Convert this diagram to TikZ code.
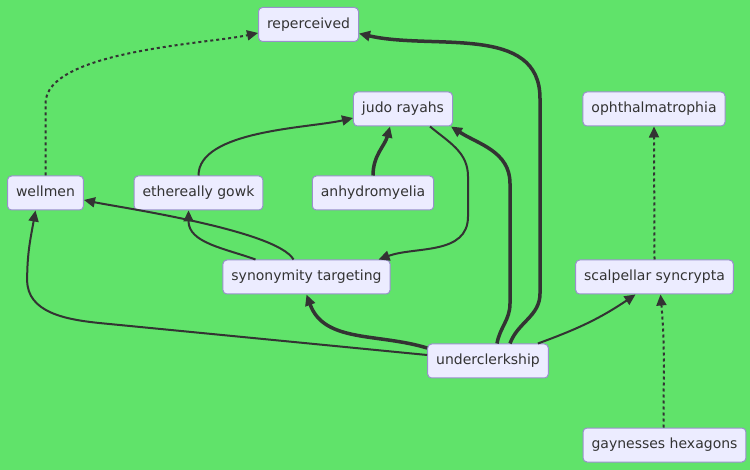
\documentclass[tikz,border=0pt]{standalone}
\usepackage{fontspec}
\setmainfont{DejaVu Sans}
\usetikzlibrary{positioning,calc,arrows.meta}
\definecolor{bggreen}{HTML}{60E36A}
\definecolor{boxfill}{HTML}{ECECFF}
\definecolor{boxline}{HTML}{9990CC}
\definecolor{ink}{HTML}{333333}
\tikzset{font=\fontsize{14}{16}\selectfont}

\begin{document}
\begin{tikzpicture}[x=1pt,y=-1pt]
	\fill[bggreen] (0,0) rectangle (750,470);
	\useasboundingbox (0,0) rectangle (750,470);
	\begin{scope}
		\tikzstyle{every node}=[draw=boxline, fill=boxfill, rounded corners=4pt, text=ink, line width=1pt, minimum height=34pt, inner xsep=8.5pt, text height=10.5pt, text depth=3pt]
		\tikzstyle{link}=[draw=ink, line width=2pt, -{Triangle[length=11pt,width=10pt]}]
		\tikzstyle{heavylink}=[link, line width=3.5pt]
		\tikzstyle{dotlink}=[link, dash pattern=on 3pt off 3pt]

		\node (reperceived) at (308.5, 24.5) {reperceived};
		\node (judo) at (403, 109) {judo rayahs};
		\node (oph) at (654, 109) {ophthalmatrophia};

		\node (wellmen) at (45.5, 193) {wellmen};
		\node (gowk) at (198.5, 193) {ethereally gowk};
		\node (anhy) at (373, 193) {anhydromyelia};

		\node (syn) at (306.5, 277) {synonymity targeting};
		\node (scal) at (654.5, 277) {scalpellar syncrypta};
		\node (under) at (488, 361) {underclerkship};
		\node (gay) at (664.5, 445) {gaynesses hexagons};

		\draw[dotlink](wellmen.north) -- ++(0,-72) to[out=90, in=192, looseness=0.6] ($(reperceived.west)+(0,8.5)$);
		\draw[heavylink]($(under.north)+(22,0)$) to[out=70, in=-90] ++(30,-50) -- ++(0,-195) to[out=90, in=-13] ($(reperceived.east)+(0,9)$);
		\draw[heavylink]($(under.north)+(9,0)$) to[out=80, in=-90] ++(13,-40) -- ++(0,-120) to[out=90, in=-33] ($(judo.south east)+(-2,0)$);

		\draw[link](gowk.north) to[out=90, in=193, looseness=0.7] ($(judo.west)+(0,9)$);
		\draw[heavylink](anhy.north) to[out=90, in=-105] ($(judo.south)+(-13,0)$);
		\draw[link]($(judo.south)+(27,0)$) to[out=-40, in=90] ++(38,50) -- ++(0,40) to[out=-90, in=20] ($(syn.north east)+(-12,0)$);

		\draw[link]($(syn.north)+(-13,0)$) to[out=120, in=-12, looseness=0.4] ($(wellmen.east)+(0,7)$);
		\draw[link]($(syn.north)+(-51,0)$) to[out=160, in=-90] ($(gowk.south)+(-10,0)$);

		\draw[heavylink]($(under.west)+(0,-13)$) to[out=163, in=-70] (syn.south);
		\draw[link]($(under.west)+(0,-6)$) -- ++(-328,-32) to[out=174, in=-90] ++(-72,-43) to[out=90, in=-100] ($(wellmen.south)+(-10,0)$);
		\draw[link]($(under.north east)+(-11,0)$) to[out=20, in=-146] ($(scal.south)+(-19,0)$);

		\draw[dotlink](scal.north) -- (oph.south);
		\draw[dotlink]($(gay.north)+(-1,0)$) to[out=90, in=-85] ($(scal.south)+(6,0)$);
	\end{scope}
\end{tikzpicture}
\end{document}
